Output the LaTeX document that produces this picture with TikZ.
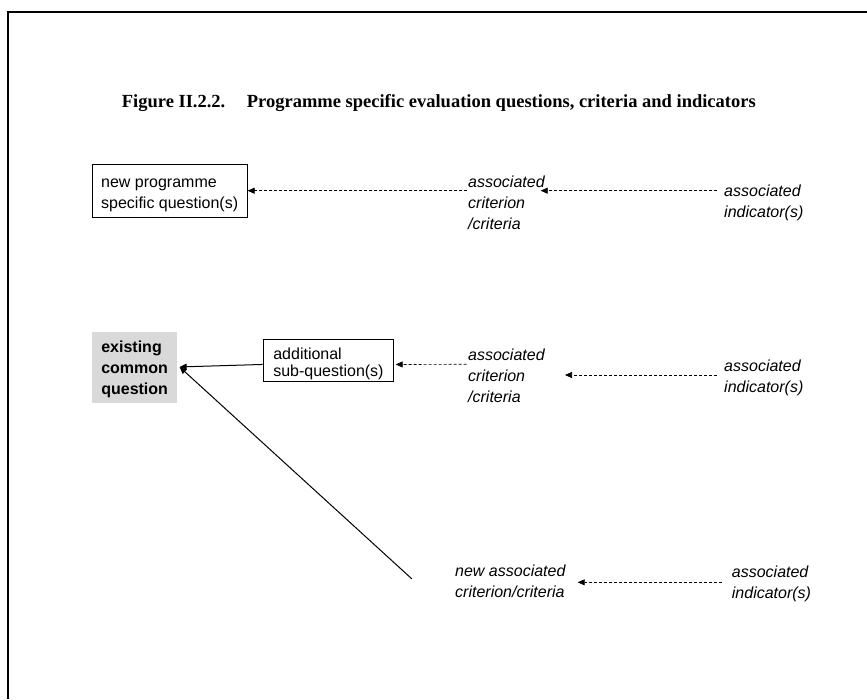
\documentclass[tikz,border=0pt]{standalone}
\usepackage{fontspec}
\setmainfont{Liberation Serif}
\setsansfont{Liberation Sans}
\usetikzlibrary{arrows.meta}
\definecolor{graybg}{RGB}{217,217,217}
\begin{document}
\begin{tikzpicture}[x=1pt,y=-1pt,
  tipA/.style={-{Triangle[length=7pt,width=6pt]}},
  solidarr/.style={tipA, line width=1pt},
  dasharr/.style={tipA, dash pattern=on 3pt off 2pt, line width=0.7pt},
  body/.style={font=\sffamily\fontsize{16}{21}\selectfont, align=left, inner sep=0pt, anchor=base west},
  ibody/.style={body, font=\sffamily\itshape\fontsize{16}{21}\selectfont},
  qbox/.style={draw, line width=0.9pt, align=left, inner sep=0pt, anchor=north west, font=\sffamily\fontsize{16}{21}\selectfont},
]
\useasboundingbox (0,0) rectangle (867,699);
\fill[white] (0,0) rectangle (867,699);
% frame
\draw[line width=2pt] (8.3,699) -- (8.3,11.7) -- (867,11.7);

% title
\node[font=\rmfamily\bfseries\fontsize{18.5}{22}\selectfont, inner sep=0pt, anchor=base west] (t) at (121.7,107)
  {Figure II.2.2.\hspace{21.5pt}Programme specific evaluation questions, criteria and indicators};

% row 1 (text nodes anchored at the baseline of their last line)
\node[qbox, minimum width=155pt, minimum height=52.5pt] (q1) at (91.7,164)
  {\rule{0pt}{17.8pt}new programme\\specific question(s)};
\node[ibody] (c1) at (468,229) {associated\\criterion\\/criteria};
\node[ibody] (i1) at (724,217.7) {associated\\indicator(s)};

% row 2
\node[qbox, draw=none, fill=graybg, font=\sffamily\bfseries\fontsize{16}{21}\selectfont,
  minimum width=85pt, minimum height=71pt] (g) at (91.7,332)
  {\rule{0pt}{15.4pt}existing\\common\\question};
\node[qbox, font=\sffamily\fontsize{16}{17}\selectfont, minimum width=130.6pt, minimum height=41.4pt] (q2) at (262.7,339.3)
  {\rule{0pt}{16pt}additional\\\smash{sub-question(s)}};
\node[ibody] (c2) at (468,402) {associated\\criterion\\/criteria};
\node[ibody] (i2) at (724,392.7) {associated\\indicator(s)};

% row 3
\node[ibody] (c3) at (455,597.7) {new associated\\criterion/criteria};
\node[ibody] (i3) at (731.7,598) {associated\\indicator(s)};
\coordinate (d) at (412,579);
\coordinate (tipg) at ([shift={(2,-1)}]g.east);

% connectors
\draw[dasharr] ([shift={(-1,-38.3)}]c1.base west) -- (q1.east);
\draw[dasharr] ([shift={(-7.3,-27)}]i1.base west) -- ([shift={(72.7,-38.3)}]c1.base west);
\draw[solidarr] ([shift={(0,4)}]q2.west) -- (tipg);
\draw[dasharr] ([shift={(-1.3,-37.7)}]c2.base west) -- ([shift={(1.5,4)}]q2.east);
\draw[dasharr] ([shift={(-7.3,-17.7)}]i2.base west) -- ([shift={(97,-27)}]c2.base west);
\draw[solidarr] (d) -- (tipg);
\draw[dasharr] ([shift={(-10,-15.7)}]i3.base west) -- ([shift={(122.7,-15.4)}]c3.base west);
\end{tikzpicture}
\end{document}
